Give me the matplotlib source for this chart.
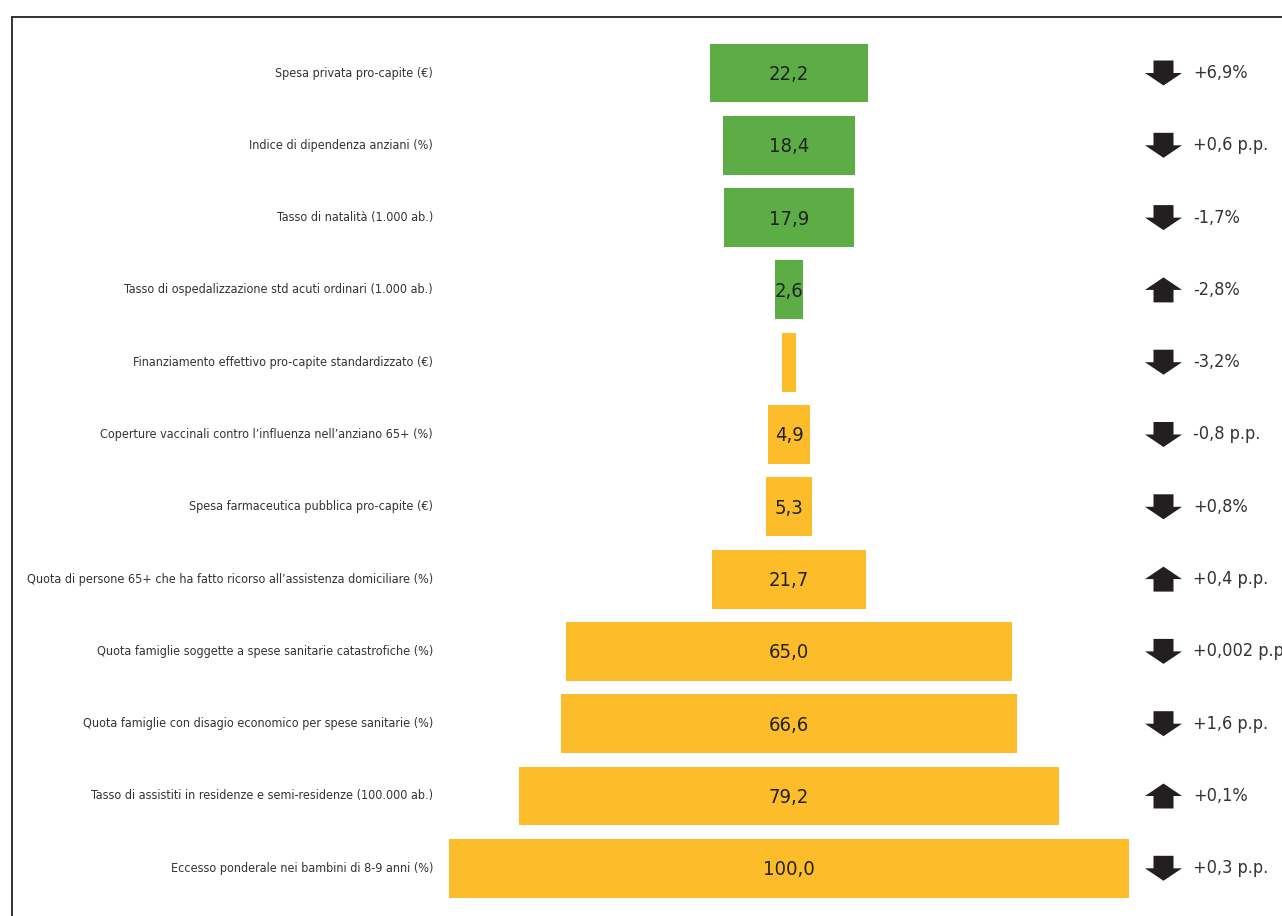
import matplotlib
matplotlib.use("Agg")
import matplotlib.pyplot as plt
from matplotlib.patches import Polygon
from matplotlib.lines import Line2D
import matplotlib.transforms as mtransforms

categories = [
    "Spesa privata pro-capite (€)",
    "Indice di dipendenza anziani (%)",
    "Tasso di natalità (1.000 ab.)",
    "Tasso di ospedalizzazione std acuti ordinari (1.000 ab.)",
    "Finanziamento effettivo pro-capite standardizzato (€)",
    "Coperture vaccinali contro l’influenza nell’anziano 65+ (%)",
    "Spesa farmaceutica pubblica pro-capite (€)",
    "Quota di persone 65+ che ha fatto ricorso all’assistenza domiciliare (%)",
    "Quota famiglie soggette a spese sanitarie catastrofiche (%)",
    "Quota famiglie con disagio economico per spese sanitarie (%)",
    "Tasso di assistiti in residenze e semi-residenze (100.000 ab.)",
    "Eccesso ponderale nei bambini di 8-9 anni (%)",
]
values = [22.2, 18.4, 17.9, 2.6, 0.7, 4.9, 5.3, 21.7, 65.0, 66.6, 79.2, 100.0]
value_labels = ["22,2", "18,4", "17,9", "2,6", "", "4,9", "5,3", "21,7", "65,0", "66,6", "79,2", "100,0"]
groups = ["green"] * 4 + ["yellow"] * 8
directions = ["down", "down", "down", "up", "down", "down", "down", "up", "down", "down", "up", "down"]
changes = ["+6,9%", "+0,6 p.p.", "-1,7%", "-2,8%", "-3,2%", "-0,8 p.p.", "+0,8%",
           "+0,4 p.p.", "+0,002 p.p", "+1,6 p.p.", "+0,1%", "+0,3 p.p."]

colors = {"green": "#5DAD46", "yellow": "#FDBD2A"}
FONT = dict(family="DejaVu Sans", stretch="condensed")

W, H = 1282, 916
fig = plt.figure(figsize=(W / 100, H / 100), dpi=100)
ax = fig.add_axes([0, 0, 1, 1])
ax.set_axis_off()

# pixel geometry
cx_px, px_per_unit = 789, 6.7
row0_px, row_px = 73, 72.3
ax.set_xlim(-cx_px / px_per_unit, (W - cx_px) / px_per_unit)
ax.set_ylim((H - row0_px) / row_px, -row0_px / row_px)

pad = 9.6 / px_per_unit
n = len(values)
ys = list(range(n))
widths = [v + pad for v in values]
ax.barh(ys, widths, left=[-w / 2 for w in widths], height=0.815,
        color=[colors[g] for g in groups], edgecolor="none")

for y, lab in zip(ys, value_labels):
    if lab:
        ax.text(0, y + 0.02, lab, ha="center", va="center", fontsize=14.5,
                color="#222222", **FONT)

blend = mtransforms.blended_transform_factory(fig.transFigure, ax.transData)
for y, cat in zip(ys, categories):
    ax.text(433 / W, y, cat, transform=blend, ha="right", va="center",
            fontsize=9.0, color="#333333", **FONT)

# arrows (drawn in data units derived from pixel shape)
ax_c = (1163.5 - cx_px) / px_per_unit
hw = 18.5 / px_per_unit   # head half width
sw = 10 / px_per_unit     # shaft half width
hh = 12.5 / row_px        # head height / shaft height
for y, d in zip(ys, directions):
    s = 1 if d == "down" else -1  # y axis inverted: +y is downward
    verts = [
        (ax_c - sw, y - s * hh), (ax_c + sw, y - s * hh),
        (ax_c + sw, y), (ax_c + hw, y),
        (ax_c, y + s * hh),
        (ax_c - hw, y), (ax_c - sw, y),
    ]
    ax.add_patch(Polygon(verts, closed=True, facecolor="#231F20", edgecolor="none"))

for y, c in zip(ys, changes):
    ax.text(1193 / W, y, c, transform=blend, ha="left", va="center",
            fontsize=13, color="#333333", **FONT)

# frame lines (top and left)
fig.add_artist(Line2D([12 / W, 1], [1 - 17 / H, 1 - 17 / H], color="#333333", lw=1.4,
                      transform=fig.transFigure))
fig.add_artist(Line2D([12 / W, 12 / W], [0, 1 - 17 / H], color="#333333", lw=1.4,
                      transform=fig.transFigure))

fig.savefig("out.png", dpi=100)
